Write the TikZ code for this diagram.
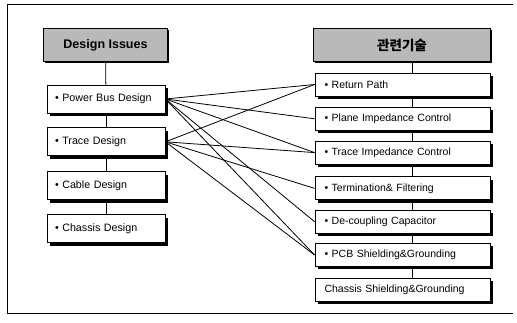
\documentclass[tikz,border=0pt]{standalone}
\usepackage{fontspec}
\setmainfont{Liberation Sans}
\newfontfamily\krfont{Noto Sans CJK KR}
\usetikzlibrary{positioning,shadows}
\tikzstyle{lbox}=[draw, line width=0.8pt, fill=white, minimum width=118pt, minimum height=28pt, text width=102pt, align=left, inner sep=0pt, font=\fontsize{10.7}{13}\selectfont, drop shadow={shadow xshift=2.5pt, shadow yshift=-3pt, fill=black, opacity=1}]
\tikzstyle{rbox}=[lbox, minimum width=175pt, minimum height=23pt, text width=156pt, font=\fontsize{10.5}{12}\selectfont]
\tikzstyle{hbox}=[draw, line width=0.8pt, fill=gray!55, minimum height=33pt, inner sep=0pt, font=\bfseries\fontsize{12.5}{14}\selectfont, drop shadow={shadow xshift=1.5pt, shadow yshift=-1.5pt, fill=black, opacity=1}]

\begin{document}
\begin{tikzpicture}[x=1pt, y=-1pt, line width=0.8pt,
	plain/.style = {drop shadow={opacity=0}, line width=0.6pt}]
	\useasboundingbox (0,0) rectangle (517,323);
	
	% frame
	\draw (513,4) -- (7,4) -- (7,313) -- (513,313);
	
	% left column
	\node[hbox, minimum width=124pt] (DI) at (105.5,45) {Design Issues};
	\node[lbox] (PB) at (106,99) {• Power Bus Design};
	\node[lbox] (TD) [below = 14pt of PB] {• Trace Design};
	\node[lbox] (CD) [below = 15pt of TD] {• Cable Design};
	\node[lbox, plain] (CH) [below = 14.5pt of CD] {• Chassis Design};
	
	% right column
	\node[hbox, minimum width=177pt, font=\krfont\bfseries\fontsize{13.5}{15}\selectfont] (RT) at (402,45) {관련기술};
	\node[rbox] (RP) at (402.5,84.5) {• Return Path};
	\node[rbox] (PI) [below = 10.5pt of RP] {• Plane Impedance Control};
	\node[rbox] (TI) [below = 10pt of PI] {• Trace Impedance Control};
	\node[rbox] (TF) [below = 12pt of TI] {• Termination\& Filtering};
	\node[rbox] (DC) [below = 9.5pt of TF] {• De-coupling Capacitor};
	\node[rbox] (PS) [below = 9.5pt of DC] {• PCB Shielding\&Grounding};
	\node[rbox, plain] (CS) [below = 11pt of PS] {Chassis Shielding\&Grounding};
	
	\coordinate (vR) at (412,0);
	
	% column links
	\draw (DI) -- (PB);
	\draw (PB) -- (TD);
	\draw (TD) -- (CD);
	\draw (CD) -- (CH);
	\draw (RT.south -| vR) -- (RP.north -| vR);
	\draw (RP.south -| vR) -- (PI.north -| vR);
	\draw (PI.south -| vR) -- (TI.north -| vR);
	\draw (TI.south -| vR) -- (TF.north -| vR);
	\draw (TF.south -| vR) -- (DC.north -| vR);
	\draw (DC.south -| vR) -- (PS.north -| vR);
	\draw (PS.south -| vR) -- (CS.north -| vR);
	
	% issue to technique links
	\draw (PB.east) -- (RP.west);
	\draw (PB.east) -- (PI.west);
	\draw (PB.east) -- (TI.west);
	\draw (PB.east) -- (DC.west);
	\draw (PB.east) -- (PS.west);
	\draw (TD.east) -- (RP.west);
	\draw (TD.east) -- (TI.west);
	\draw (TD.east) -- (TF.west);
	\draw (TD.east) -- (PS.west);
	
\end{tikzpicture}
\end{document}
